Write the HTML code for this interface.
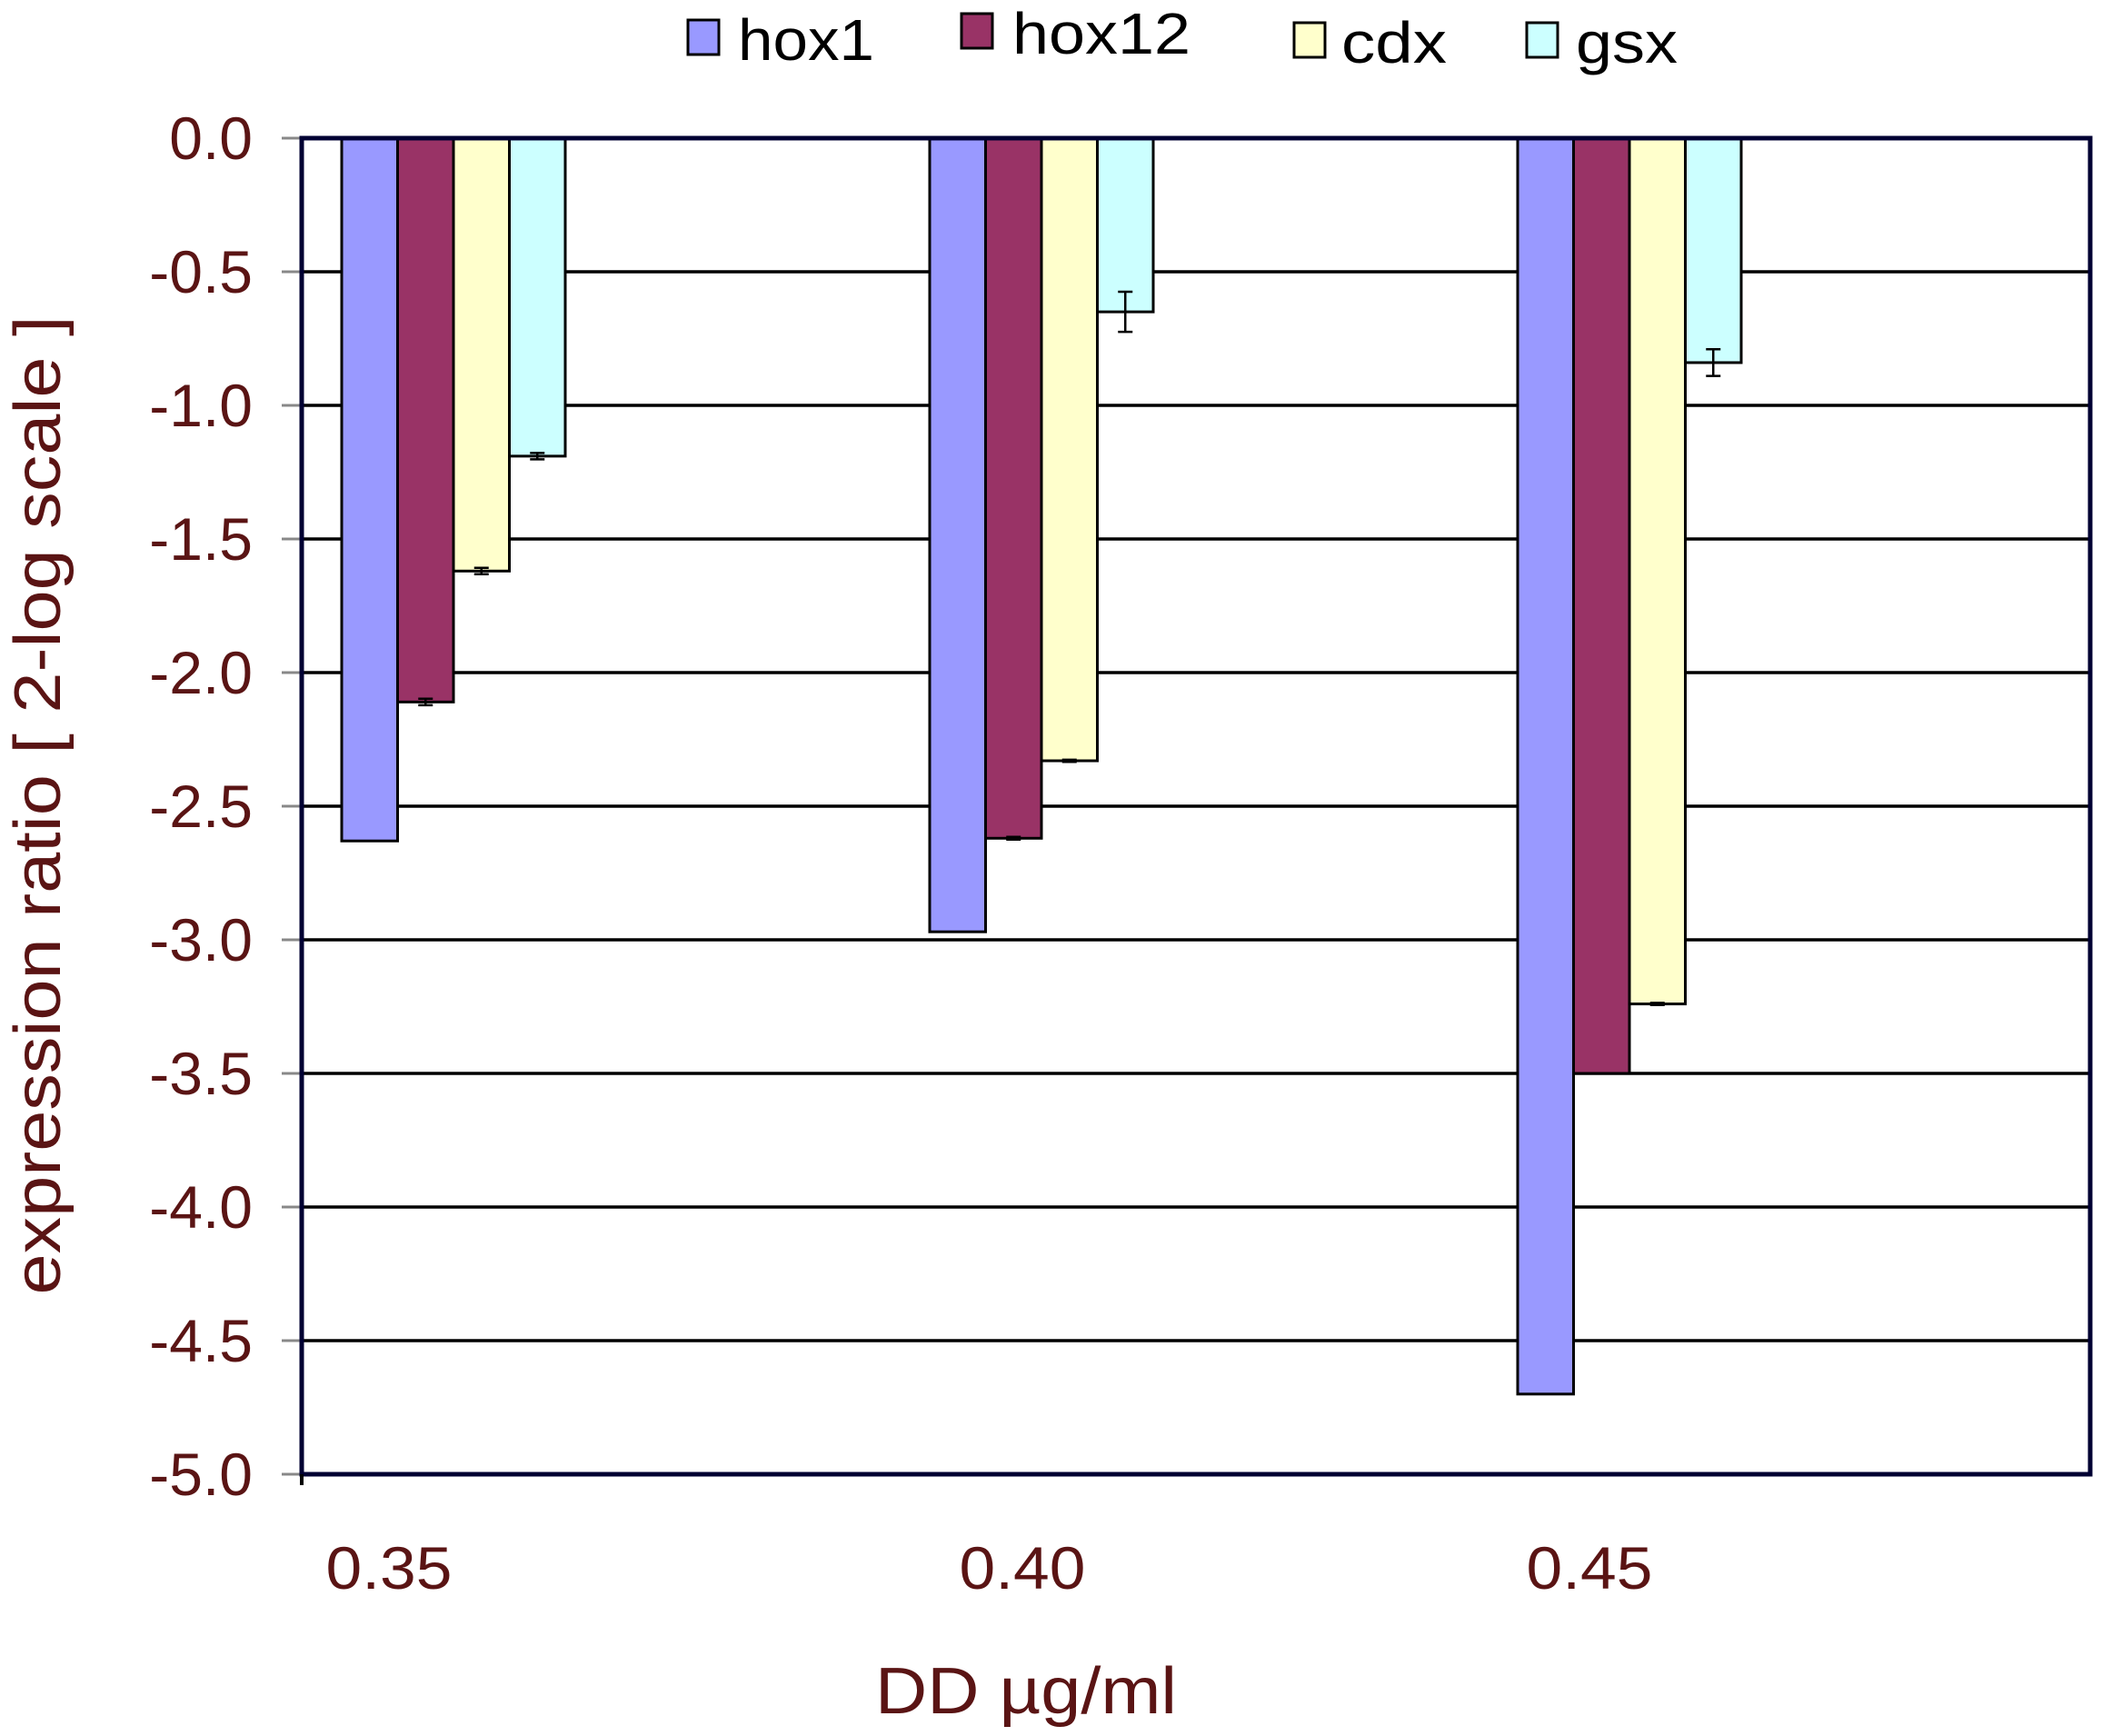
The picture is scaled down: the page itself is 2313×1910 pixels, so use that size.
<!DOCTYPE html>
<html><head><meta charset="utf-8">
<style>
html,body{margin:0;padding:0;background:#fff;}
svg{display:block;font-family:"Liberation Sans",Arial,sans-serif;}
</style></head>
<body>
<svg id="chart" width="2313" height="1910" viewBox="0 0 2313 1910" xmlns="http://www.w3.org/2000/svg">
<rect x="0" y="0" width="2313" height="1910" fill="#fff"/>
<g id="grid"></g>
<g id="bars"></g>
<g id="axes"></g>
<g id="legend"></g>
<text transform="translate(66,886) rotate(-90)" text-anchor="middle" font-size="72" textLength="1077" lengthAdjust="spacingAndGlyphs" fill="#5a1414">expression ratio [ 2-log scale ]</text>
<text x="1129" y="1885" text-anchor="middle" font-size="72" textLength="332" lengthAdjust="spacingAndGlyphs" fill="#5a1414">DD µg/ml</text>
</svg>
<script>
const categories = ["0.35", "0.40", "0.45"];
const seriesNames = ["hox1", "hox12", "cdx", "gsx"];
const hox1 = [-2.63, -2.97, -4.70];
const hox12 = [-2.11, -2.62, -3.50];
const cdx = [-1.62, -2.33, -3.24];
const gsx = [-1.19, -0.65, -0.84];
const hox1Err = [0, 0, 0];
const hox12Err = [0.012, 0.005, 0];
const cdxErr = [0.012, 0.004, 0.004];
const gsxErr = [0.012, 0.075, 0.05];
const yTicks = ["0.0","-0.5","-1.0","-1.5","-2.0","-2.5","-3.0","-3.5","-4.0","-4.5","-5.0"];

const NS = "http://www.w3.org/2000/svg";
const colors = ["#9999ff", "#993366", "#ffffcc", "#ccffff"];
const series = [hox1, hox12, cdx, gsx];
const errs = [hox1Err, hox12Err, cdxErr, gsxErr];
const plotL = 332, plotR = 2300, plotT = 152, plotB = 1622;
const yMin = -5, yMax = 0;
function y(v){ return plotT + (yMax - v) / (yMax - yMin) * (plotB - plotT); }
const band = 647, groupOffset = 44, barW = 61.5;
function x(ci, si){ return plotL + groupOffset + ci * band + si * barW; }
const labelX = [428, 1125, 1749];
function mk(tag, attrs, parent){ const e = document.createElementNS(NS, tag); for (const k in attrs) e.setAttribute(k, attrs[k]); parent.appendChild(e); return e; }

const grid = document.getElementById('grid');
const bars = document.getElementById('bars');
const axes = document.getElementById('axes');
const legend = document.getElementById('legend');

yTicks.forEach((t) => {
  const v = parseFloat(t), yy = y(v);
  if (v > yMin && v < yMax) {
    const g = mk('line', {x1: plotL, x2: plotR, y1: yy, y2: yy, stroke: '#000', 'stroke-width': 3.5}, grid);
    
    
  }
  const tk = mk('line', {x1: plotL - 22, x2: plotL, y1: yy, y2: yy, stroke: '#888', 'stroke-width': 3}, axes);
  
  
  const lb = mk('text', {x: 278, y: yy + 23, 'text-anchor': 'end', 'font-size': 66, fill: '#5a1414'}, axes);
  lb.textContent = t;
  
  
});

series.forEach((vals, si) => {
  vals.forEach((v, ci) => {
    const x0 = x(ci, si), y0 = y(0), y1 = y(v);
    const r = mk('rect', {x: x0, y: y0, width: barW, height: y1 - y0, fill: colors[si], stroke: '#000', 'stroke-width': 3}, bars);
    
    
    const e = errs[si][ci];
    if (e > 0) {
      const cx = x0 + barW / 2, ya = y(v + e), yb = y(v - e);
      const eb = mk('path', {d: `M${cx},${ya}V${yb}M${cx-8},${ya}H${cx+8}M${cx-8},${yb}H${cx+8}`, stroke: '#000', 'stroke-width': 2.5, fill: 'none'}, bars);
      
      
    }
  });
});

const frame = mk('rect', {x: plotL, y: plotT, width: plotR - plotL, height: plotB - plotT, fill: 'none', stroke: '#000033', 'stroke-width': 5}, axes);


const bt = mk('line', {x1: plotL, x2: plotL, y1: plotB, y2: plotB + 12, stroke: '#000', 'stroke-width': 4}, axes);



categories.forEach((c, ci) => {
  const t = mk('text', {x: labelX[ci], y: 1748, 'text-anchor': 'middle', 'font-size': 66, textLength: 139, lengthAdjust: 'spacingAndGlyphs', fill: '#5a1414'}, axes);
  t.textContent = c;
  
  
});

const legSq = [757, 1058, 1424, 1680];
const legTx = [812, 1114, 1476, 1734];
const legBase = [66, 59, 69, 69];
const legLen = [150, 196, 116, 112];
seriesNames.forEach((n, si) => {
  const sq = mk('rect', {x: legSq[si], y: legBase[si] - 44, width: 34, height: 38, fill: colors[si], stroke: '#000', 'stroke-width': 3}, legend);
  
  
  const t = mk('text', {x: legTx[si], y: legBase[si], 'font-size': 64, textLength: legLen[si], lengthAdjust: 'spacingAndGlyphs', fill: '#000'}, legend);
  t.textContent = n;
  
  
});
</script>
</body></html>
